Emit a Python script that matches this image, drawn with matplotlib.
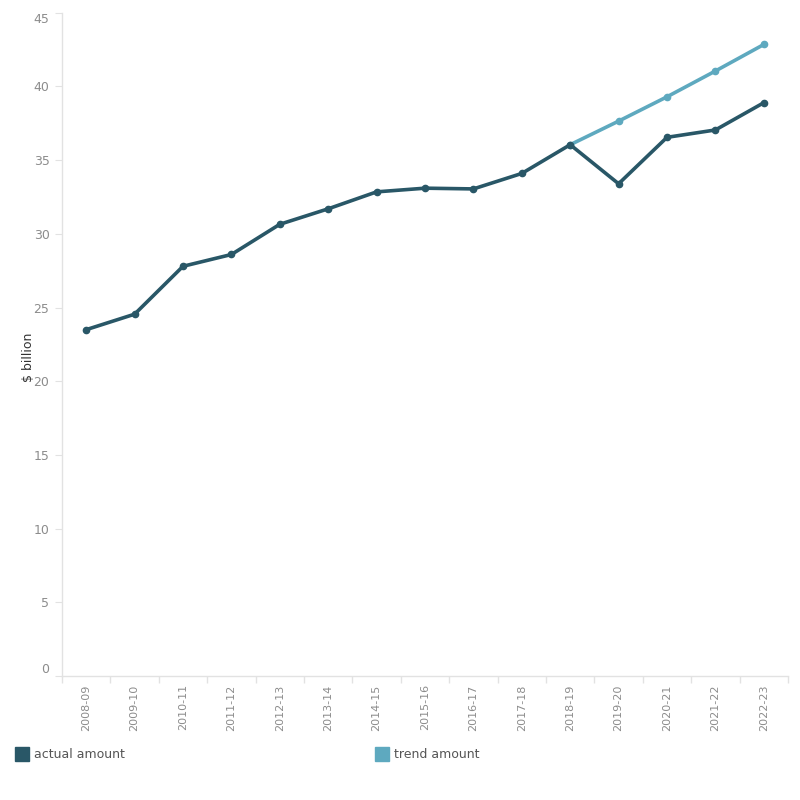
import matplotlib.pyplot as plt
from matplotlib.patches import Rectangle
import numpy as np

# Data
years = ["2008-09", "2009-10", "2010-11", "2011-12", "2012-13", "2013-14",
         "2014-15", "2015-16", "2016-17", "2017-18", "2018-19", "2019-20",
         "2020-21", "2021-22", "2022-23"]
actual = [23.5, 24.55, 27.8, 28.6, 30.65, 31.7, 32.85, 33.1, 33.05, 34.1,
          36.05, 33.4, 36.55, 37.05, 38.9]
trend_years = ["2018-19", "2019-20", "2020-21", "2021-22", "2022-23"]
trend = [36.05, 37.65, 39.3, 41.05, 42.85]

dark = "#295767"
light = "#5ea9bf"
grey = "#e2e2e2"
label_grey = "#8c8c8c"

fig = plt.figure(figsize=(8, 8), dpi=100)
ax = fig.add_axes([0.0775, 0.155, 0.9075, 0.829])

x = np.arange(len(years))
xt = [years.index(y) for y in trend_years]

ax.plot(xt, trend, color=light, linewidth=2.6, marker="o", markersize=4.5, zorder=2)
ax.plot(x, actual, color=dark, linewidth=2.6, marker="o", markersize=4.5, zorder=3)

ax.set_xlim(-0.5, len(years) - 0.5)
ax.set_ylim(0, 45)
ax.set_yticks(range(0, 50, 5))
ax.set_xticks(x)
ax.set_xticklabels(years, rotation=90, fontsize=8, color=label_grey)
ax.set_xticks(np.arange(-0.5, len(years), 1), minor=True)
ax.tick_params(axis="x", which="major", length=0, pad=6)
ax.tick_params(axis="x", which="minor", length=5, color=grey, width=1)
ax.tick_params(axis="y", length=5, color=grey, labelsize=9, labelcolor=label_grey, pad=4)

# keep end labels inside the axis range, like the original
ylabels = ax.get_yticklabels()
ylabels[0].set_va("bottom")
ylabels[-1].set_va("top")

for s in ["top", "right"]:
    ax.spines[s].set_visible(False)
for s in ["left", "bottom"]:
    ax.spines[s].set_color(grey)
    ax.spines[s].set_linewidth(1)

ax.set_ylabel("$ billion", fontsize=9, color="#333333")
ax.yaxis.set_label_coords(-0.037, 0.48)

# Legend
fig.patches.append(Rectangle((15 / 800, 1 - 761 / 800), 14 / 800, 14 / 800,
                             transform=fig.transFigure, color=dark))
fig.text(34 / 800, 1 - 755 / 800, "actual amount", fontsize=9, color="#555555", va="center")
fig.patches.append(Rectangle((375 / 800, 1 - 761 / 800), 14 / 800, 14 / 800,
                             transform=fig.transFigure, color=light))
fig.text(394 / 800, 1 - 755 / 800, "trend amount", fontsize=9, color="#555555", va="center")

fig.savefig("out.png", dpi=100)
